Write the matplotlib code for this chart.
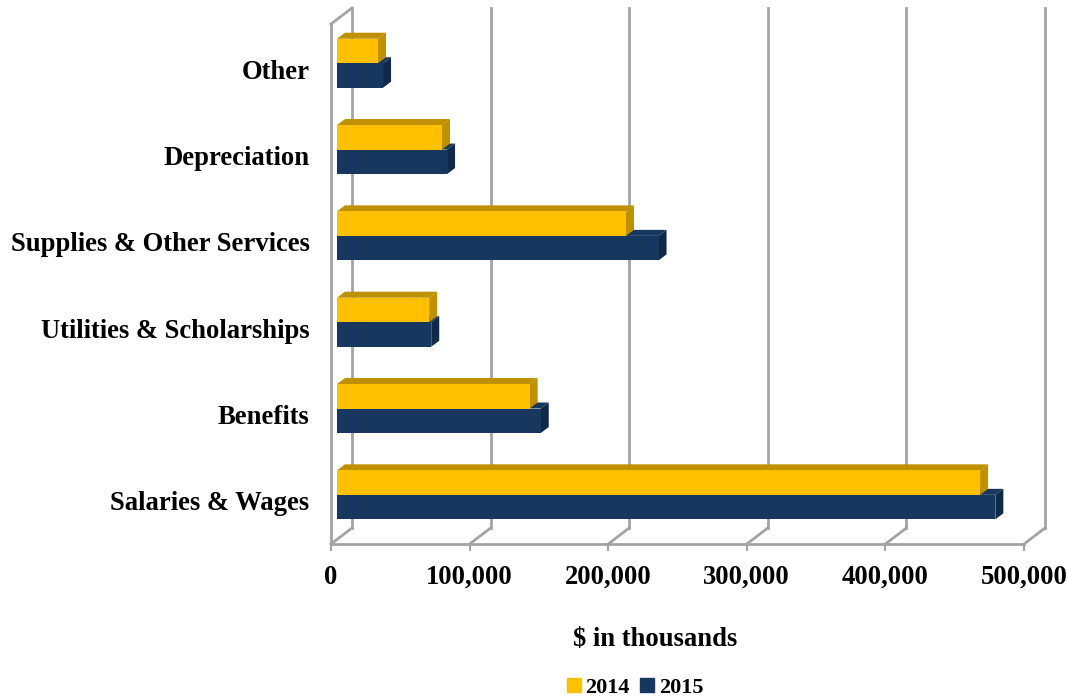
import matplotlib
matplotlib.use("Agg")
import matplotlib.pyplot as plt
from matplotlib.patches import Patch

categories = ["Salaries & Wages", "Benefits", "Utilities & Scholarships",
              "Supplies & Other Services", "Depreciation", "Other"]
values_2014 = [464000, 139000, 66500, 208500, 75800, 29600]
values_2015 = [475000, 147000, 68000, 232000, 79400, 33200]
xticks = [0, 100000, 200000, 300000, 400000, 500000]

W, H = 1067, 698
GREY = "#a3a3a3"
YMAX = 6.024

plt.rcParams["font.family"] = ["Liberation Serif", "DejaVu Serif"]
plt.rcParams["font.weight"] = "bold"

fig = plt.figure(figsize=(W / 100, H / 100), dpi=100)
ax = fig.add_axes([331 / W, (H - 544) / H, 693 / W, 520 / H])
ax.set_xlim(0, 500000)
ax.set_ylim(0, YMAX)

# size of one pixel in data units, for the fake 3d depth
px = 500000 / 693
py = YMAX / 520
wall_x, wall_y = 21 * px, 16 * py
bar_x, bar_y = 6 * px, 6 * py
depth_x, depth_y = 8 * px, 6 * py
bar_h = 24.5 * py


def bar3d(y, val, face, top, side):
    # y is the bottom of the front face
    x0, x1 = bar_x, val + bar_x
    y0, y1 = y, y + bar_h
    ax.fill([x0, x1, x1 + depth_x, x0 + depth_x], [y1, y1, y1 + depth_y, y1 + depth_y],
            color=top, lw=0, zorder=3)
    ax.fill([x1, x1 + depth_x, x1 + depth_x, x1], [y0, y0 + depth_y, y1 + depth_y, y1],
            color=side, lw=0, zorder=3)
    ax.barh(y0, val, height=bar_h, left=x0, align="edge", color=face, lw=0, zorder=4)


for v in xticks:
    ax.plot([v + wall_x] * 2, [wall_y, YMAX + wall_y], color=GREY, lw=2, clip_on=False, zorder=1)
    ax.plot([v, v + wall_x], [0, wall_y], color=GREY, lw=2, clip_on=False, zorder=1)
ax.plot([0, wall_x], [YMAX, YMAX + wall_y], color=GREY, lw=2, clip_on=False, zorder=1)

for i in range(len(categories)):
    mid = i + 0.5 + bar_y
    bar3d(mid - bar_h, values_2015[i], "#17375e", "#17375e", "#10294a")
for i in range(len(categories)):
    mid = i + 0.5 + bar_y
    bar3d(mid, values_2014[i], "#ffc000", "#bf9000", "#bf9000")

for s in ["top", "right"]:
    ax.spines[s].set_visible(False)
for s in ["left", "bottom"]:
    ax.spines[s].set_color(GREY)
    ax.spines[s].set_linewidth(2)

ax.set_xticks(xticks)
ax.set_xticklabels([f"{v:,}" for v in xticks], fontsize=19.2)
ax.tick_params(axis="x", length=5, width=1.5, color=GREY, pad=10)
ax.set_yticks([i + 0.5 for i in range(len(categories))])
ax.set_yticklabels(categories, fontsize=19.2, va="center_baseline")
ax.tick_params(axis="y", length=0, pad=15.5)

fig.text(655 / W, 1 - 640 / H, "$ in thousands", fontsize=19.2, ha="center", va="center")

handles = [Patch(color="#ffc000", label="2014"), Patch(color="#17375e", label="2015")]
fig.legend(handles=handles, loc="center", bbox_to_anchor=(635 / W, 1 - 688 / H), ncol=2,
           frameon=False, fontsize=16, handlelength=0.62, handleheight=0.62,
           handletextpad=0.2, columnspacing=0.5, borderpad=0)

fig.savefig("out.png", dpi=100)
